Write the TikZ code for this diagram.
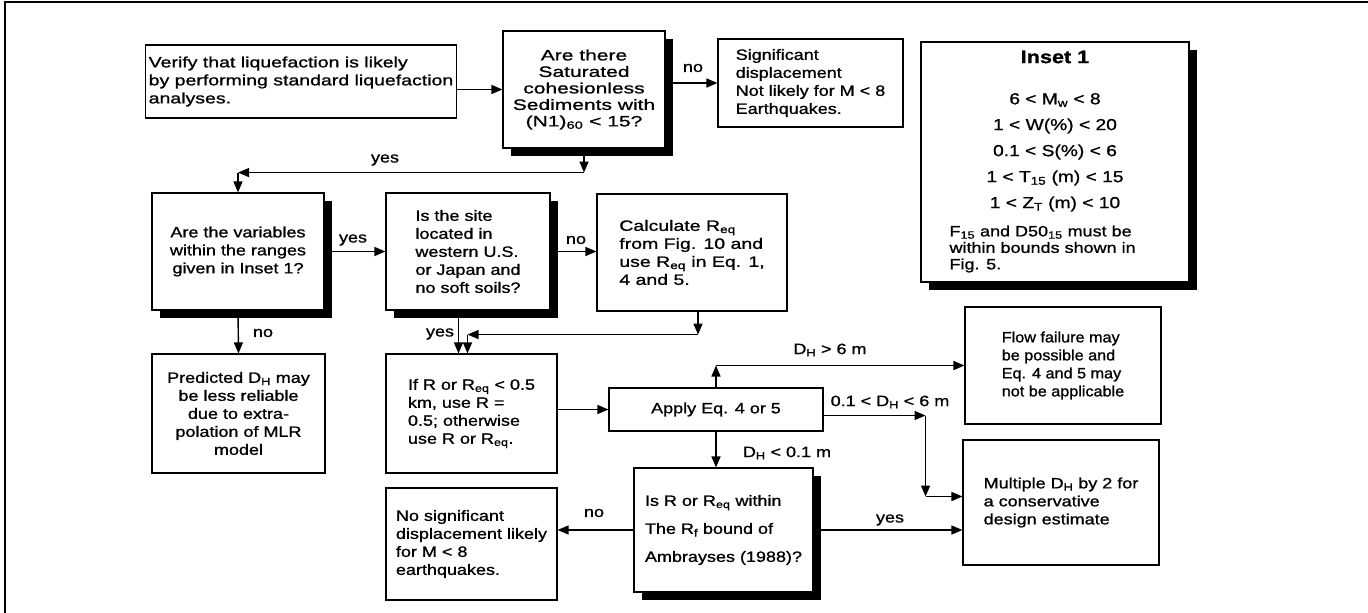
\documentclass[tikz,border=0pt]{standalone}
\usepackage{fontspec}
\setmainfont{Liberation Sans}[FakeStretch=1.2, FakeBold=1.0]
\newfontfamily\widerfont{Liberation Sans}[FakeStretch=1.3, FakeBold=1.0]
\newfontfamily\widestfont{Liberation Sans}[FakeStretch=1.4, FakeBold=1.0]
\newfontfamily\narrowfont{Liberation Sans}[FakeStretch=1.08, FakeBold=1.0]
\usetikzlibrary{arrows.meta, calc, shadows}

\begin{document}
\begin{tikzpicture}[x=1pt, y=-1pt, >={Triangle[length=11pt, width=9pt]},
    line width=1.1pt,
    every node/.style={font=\fontsize{15}{18}\selectfont},
    box/.style={draw, fill=white, inner sep=3pt},
    sbox/.style={box, drop shadow={shadow xshift=8pt, shadow yshift=-8pt,
                 opacity=1, fill=black}},
    arr/.style={->, line width=1.4pt}]
  \useasboundingbox (0,0) rectangle (1368,613);
  % frame of the scan
  \draw[line width=2.5pt] (1368,2) -- (5,2) -- (5,613);

  % first row
  \node[box, minimum width=299pt, minimum height=73pt, align=left,
        font=\widerfont\fontsize{15}{18}\selectfont]
    (verify) at (301,81.5)
    {Verify that liquefaction is likely\\by performing standard liquefaction\\analyses.};
  \node[sbox, minimum width=162pt, minimum height=117pt, align=center,
        font=\widestfont\fontsize{15}{16.5}\selectfont]
    (sat) at (584,89.5)
    {Are there\\Saturated\\cohesionless\\Sediments with\\(N1)\textsubscript{60} < 15?};
  \node[box, minimum width=185pt, minimum height=88pt, align=left]
    (nosig) at (810.5,83)
    {Significant\\displacement\\Not likely for M < 8\\Earthquakes.};

  % inset
  \node[sbox, minimum width=268pt, minimum height=240pt] (inset) at (1055,162) {};
  \node[font=\fontsize{18}{20}\selectfont\bfseries] (inshead) at (1055,57) {Inset 1};
  \foreach \t [count=\i] in {6 < M\textsubscript{w} < 8, 1 < W(\%) < 20,
      0.1 < S(\%) < 6, 1 < T\textsubscript{15} (m) < 15,
      1 < Z\textsubscript{T} (m) < 10}
    \node[font=\fontsize{16}{18}\selectfont] (rng\i) at (1055,{100+26*(\i-1)}) {\t};
  \node[anchor=west, align=left, inner sep=0pt, font=\fontsize{15}{16.5}\selectfont]
    (insnote) at (949,249)
    {F\textsubscript{15} and D50\textsubscript{15} must be\\within bounds shown in\\Fig. 5.};

  % second row
  \node[sbox, minimum width=172pt, minimum height=117pt, align=center]
    (vars) at (238,251.5)
    {Are the variables\\within the ranges\\given in Inset 1?};
  \node[sbox, minimum width=164pt, minimum height=117pt, align=left]
    (site) at (468,251.5)
    {Is the site\\located in\\western U.S.\\or Japan and\\no soft soils?};
  \node[box, minimum width=190pt, minimum height=117pt, align=left,
        font=\widerfont\fontsize{15}{18}\selectfont]
    (calc) at (692,252.5)
    {Calculate R\textsubscript{eq}\\from Fig. 10 and\\use R\textsubscript{eq} in Eq. 1,\\4 and 5.};

  % third row
  \node[box, minimum width=173pt, minimum height=119pt, align=center]
    (pred) at (238.5,413.5)
    {Predicted D\textsubscript{H} may\\be less reliable\\due to extra-\\polation of MLR\\model};
  \node[box, minimum width=171pt, minimum height=119pt, align=left]
    (rmin) at (471.5,413.5)
    {If R or R\textsubscript{eq} < 0.5\\km, use R =\\0.5; otherwise\\use R or R\textsubscript{eq}.};
  \node[box, minimum width=214pt, minimum height=43pt]
    (apply) at (716,409.5) {Apply Eq. 4 or 5};
  \node[box, minimum width=196pt, minimum height=117pt, align=left,
        font=\narrowfont\fontsize{15}{18}\selectfont]
    (flow) at (1063,365.5)
    {Flow failure may\\be possible and\\Eq. 4 and 5 may\\not be applicable};
  \node[box, minimum width=196pt, minimum height=125pt, align=left]
    (mult) at (1061,502.5)
    {Multiple D\textsubscript{H} by 2 for\\a conservative\\design estimate};

  % last row
  \node[sbox, minimum width=179pt, minimum height=124pt, align=left,
        font=\fontsize{15}{28}\selectfont]
    (ambr) at (723.5,530)
    {Is R or R\textsubscript{eq} within\\The R\textsubscript{f} bound of\\Ambrayses (1988)?};
  \node[box, minimum width=171pt, minimum height=112pt, align=left]
    (nosd) at (471.5,544)
    {No significant\\displacement likely\\for M < 8\\earthquakes.};

  % connectors
  \draw[arr] (sat.west -| verify.east) -- (sat.west);
  \draw[arr] (nosig.west -| sat.east) -- (nosig.west);
  \coordinate (y1) at ($(sat.south)+(0,24)$);
  \coordinate (y2) at (y1 -| vars.north);
  \draw[arr] (sat.south) -- (y1);
  \draw[arr] (y1) -- (y2);
  \draw[arr] (y2) -- (vars.north);
  \draw[arr] (vars.east) -- (vars.east -| site.west);
  \draw[arr] (site.east) -- (site.east -| calc.west);
  \draw[arr] (vars.south) -- (pred.north);
  \coordinate (d1) at ($(rmin.north)+(-13,0)$);
  \coordinate (d2) at ($(rmin.north)+(-4,0)$);
  \coordinate (e1) at ($(calc.south)+(6,23)$);
  \draw[arr] (d1 |- site.south) -- (d1);
  \draw[arr] (e1 |- calc.south) -- (e1);
  \draw[arr] (e1) -- (e1 -| d2);
  \draw[arr] (e1 -| d2) -- (d2);
  \draw[arr] (apply.west -| rmin.east) -- (apply.west);
  \draw[arr] (apply.north) -- (apply.north |- flow.west);
  \draw[arr] (apply.north |- flow.west) -- (flow.west);
  \coordinate (f1) at ($(apply.east)+(102,6)$);
  \coordinate (f2) at ($(mult.west)+(0,-6)$);
  \draw[arr] (f1 -| apply.east) -- (f1);
  \draw[arr] (f1) -- (f1 |- f2);
  \draw[arr] (f1 |- f2) -- (f2);
  \draw[arr] (apply.south) -- (apply.south |- ambr.north);
  \draw[arr] (ambr.west) -- (ambr.west -| nosd.east);
  \draw[arr] (ambr.east) -- (ambr.east -| mult.west);

  % labels
  \node (lno1) at (693,68) {no};
  \node (lyes1) at (385,160) {yes};
  \node (lyes2) at (353,240) {yes};
  \node (lno2) at (576,240) {no};
  \node (lno3) at (263,333) {no};
  \node (lyes3) at (440,334) {yes};
  \node (lgt) at (830,350) {D\textsubscript{H} > 6 m};
  \node (lmid) at (890,402) {0.1 < D\textsubscript{H} < 6 m};
  \node (llt) at (787,453) {D\textsubscript{H} < 0.1 m};
  \node (lno4) at (594,513) {no};
  \node (lyes4) at (890,520) {yes};
\end{tikzpicture}
\end{document}
